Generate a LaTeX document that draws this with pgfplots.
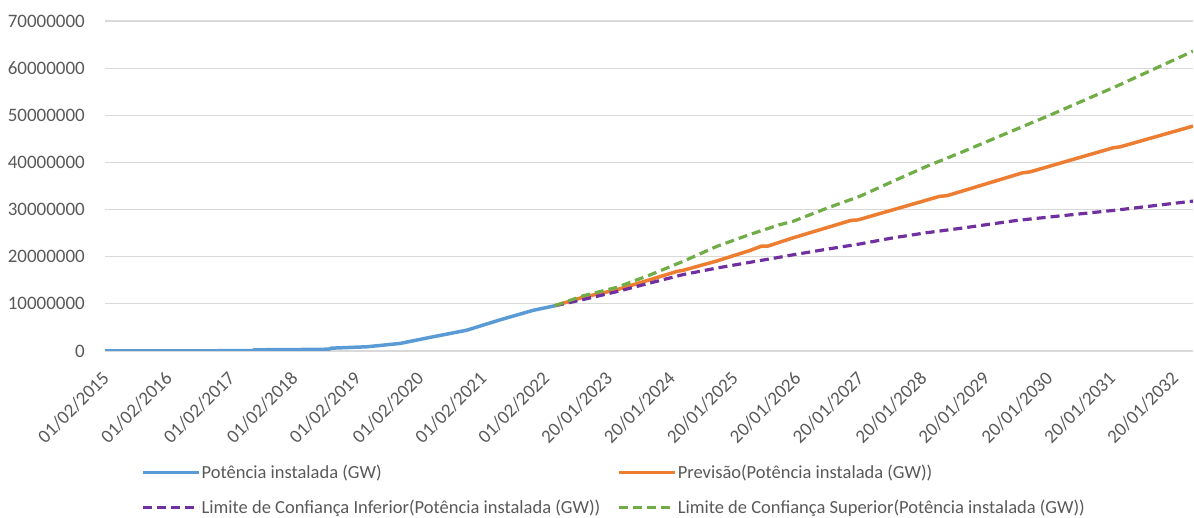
\documentclass[border=0pt]{standalone}
\usepackage{pgfplots}
\pgfplotsset{compat=1.18}
\usepackage{fontspec}
\setmainfont{Carlito}
\definecolor{cblue}{HTML}{5B9BD5}
\definecolor{corange}{HTML}{ED7D31}
\definecolor{cpurple}{HTML}{7030A0}
\definecolor{cgreen}{HTML}{70AD47}
\definecolor{tickgray}{HTML}{595959}
\definecolor{gridgray}{HTML}{D9D9D9}
\begin{document}
\begin{tikzpicture}[x=1pt,y=1pt]
\useasboundingbox (0,0) rectangle (1194,518);
\begin{axis}[
  at={(105pt,167pt)}, anchor=south west,
  scale only axis, width=1088pt, height=330pt,
  xmin=0, xmax=17.3, ymin=0, ymax=70000000,
  axis x line*=bottom, axis y line*=left,
  x axis line style={draw=gridgray, line width=1.2pt},
  y axis line style={draw=none},
  major tick length=0pt,
  xtick={0,1,...,17},
  xticklabels={01/02/2015,01/02/2016,01/02/2017,01/02/2018,01/02/2019,01/02/2020,01/02/2021,01/02/2022,20/01/2023,20/01/2024,20/01/2025,20/01/2026,20/01/2027,20/01/2028,20/01/2029,20/01/2030,20/01/2031,20/01/2032},
  ytick={0,10000000,20000000,30000000,40000000,50000000,60000000,70000000},
  yticklabels={0,10000000,20000000,30000000,40000000,50000000,60000000,70000000},
  scaled y ticks=false,
  xticklabel style={yshift=-24pt, xshift=1pt, rotate=45, anchor=east, inner sep=0pt, font=\fontsize{19}{21}\selectfont, text=tickgray},
  yticklabel style={anchor=east, inner sep=0pt, xshift=-20pt, font=\fontsize{19}{21}\selectfont, text=tickgray},
  ymajorgrids, grid style={draw=gridgray, line width=1.2pt},
  legend columns=2,
  legend cell align=left,
  legend image code/.code={\draw[#1] (0pt,0pt) -- (56pt,0pt);},
  legend style={at={(axis description cs:0.0331,-0.342)}, anchor=north west, draw=none, fill=none,
    inner sep=0pt, font=\fontsize{18.5}{20}\selectfont, text=tickgray,
    nodes={inner sep=1pt}, row sep=18pt,
    /tikz/column 2/.style={column sep=16pt}},
]
\addplot[cblue, line width=3.5pt, line join=round] coordinates {
(0,0) (1,20000) (2,60000) (2.35,100000) (2.37,250000) (3.0,300000) (3.56,380000) (3.6,600000)
(4.17,900000) (4.69,1600000) (5.21,3000000) (5.75,4400000) (6.28,6600000) (6.80,8600000) (7.154,9600000)};
\addlegendentry{Potência instalada (GW)}
\addplot[corange, line width=3.5pt, line join=round] coordinates {
(7.154,9600000) (7.60,11400000) (8.14,13000000) (8.66,15100000) (9.10,16900000) (9.19,17100000)
(9.73,19100000) (10.25,21300000) (10.44,22250000) (10.54,22250000) (10.94,24000000) (11.86,27700000)
(11.97,27800000) (13.27,32800000) (13.39,32950000) (14.59,37800000) (14.71,38000000)
(16.03,43100000) (16.14,43300000) (17.30,47700000)};
\addlegendentry{Previsão(Potência instalada (GW))}
\addplot[cpurple, line width=3.2pt, dash pattern=on 9pt off 5pt] coordinates {
(7.154,9600000) (7.60,10900000) (8.14,12600000) (8.66,14400000) (9.19,16200000) (9.73,17600000)
(10.25,18800000) (10.73,19900000) (10.94,20400000) (11.48,21600000) (12.00,22700000) (12.53,24000000)
(13.07,25100000) (13.59,26000000) (14.50,27700000) (16.09,29900000) (17.30,31800000)};
\addlegendentry{Limite de Confiança Inferior(Potência instalada (GW))}
\addplot[cgreen, line width=3.2pt, dash pattern=on 9pt off 5pt] coordinates {
(7.154,9600000) (7.60,11700000) (8.14,13500000) (8.66,16100000) (9.19,19000000) (9.73,22200000)
(10.25,24700000) (10.73,26800000) (10.94,27500000) (11.48,30300000) (12.00,32800000) (12.53,36000000)
(13.07,39200000) (13.59,42000000) (14.59,47600000) (15.02,50000000) (16.09,56200000) (17.30,63600000)};
\addlegendentry{Limite de Confiança Superior(Potência instalada (GW))}
\end{axis}
\end{tikzpicture}
\end{document}
